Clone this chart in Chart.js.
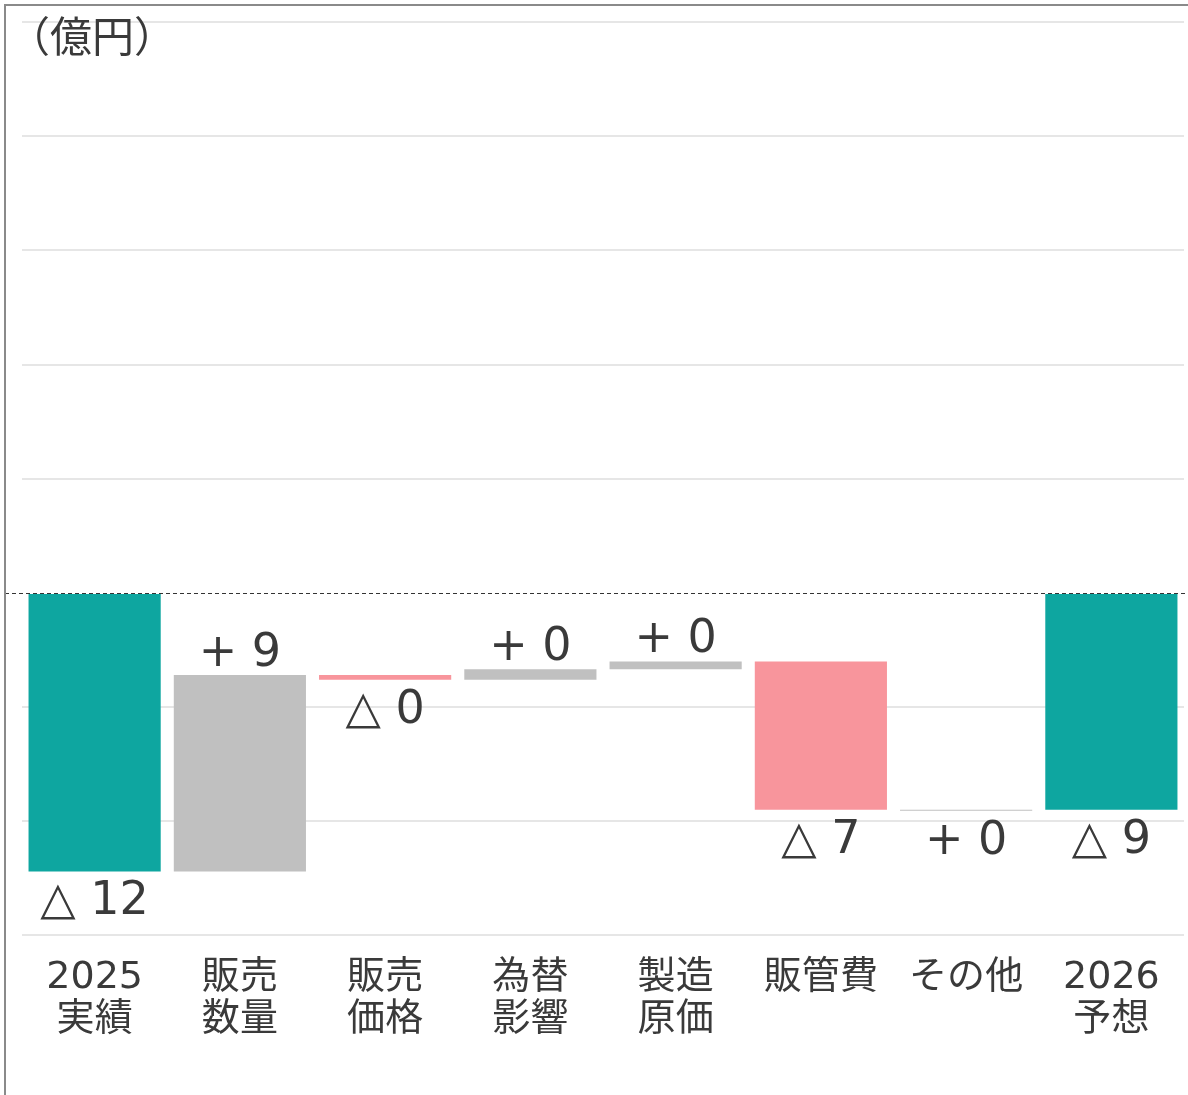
<!DOCTYPE html>
<html>
<head>
<meta charset="utf-8">
<script src="https://cdn.jsdelivr.net/npm/chart.js@4.4.1/dist/chart.umd.min.js"></script>
<style>
  html, body { margin: 0; padding: 0; background: #fff; }
  #wrap { position: relative; width: 1188px; height: 1095px; }
</style>
</head>
<body>
<div id="wrap"><canvas id="chartWaterfall"></canvas></div>
<script>
const categories = [['2025', '実績'], ['販売', '数量'], ['販売', '価格'], ['為替', '影響'], ['製造', '原価'], '販管費', 'その他', ['2026', '予想']];
const startValue = -12.2;
const deltas = [8.6, -0.2, 0.45, 0.35, -6.5, 0];
const endValue = -9.5;
const valueLabels = ['△ 12', '+ 9', '△ 0', '+ 0', '+ 0', '△ 7', '+ 0', '△ 9'];
const yMin = -15;
const yMax = 25;
const yStep = 5;
const unitLabel = '（億円）';

const FONT = '"DejaVu Sans", "Noto Sans CJK JP", sans-serif';
const CJK = '"Noto Sans CJK JP", sans-serif';
const TEAL = '#0ea6a0';
const GRAY = '#c0c0c0';
const PINK = '#f8959c';
const TEXT = '#3a3a3a';

// floating bars built from start / deltas / end
const bars = [];
const colors = [];
const signs = [];
bars.push([0, startValue]);
colors.push(TEAL);
signs.push(startValue > 0 ? 1 : -1);
let running = startValue;
deltas.forEach(d => {
    bars.push([running, running + d]);
    running += d;
    colors.push(d < 0 ? PINK : GRAY);
    signs.push(d > 0 ? 1 : -1);
});
bars.push([0, endValue]);
colors.push(TEAL);
signs.push(endValue > 0 ? 1 : -1);

const extras = {
    id: 'extras',
    afterDatasetsDraw(chart) {
        const c = chart.ctx;
        const y = chart.scales.y;
        const meta = chart.getDatasetMeta(0);
        // dashed zero line
        const y0 = Math.round(y.getPixelForValue(0)) + 0.5;
        c.save();
        c.strokeStyle = '#333';
        c.lineWidth = 1;
        c.setLineDash([4, 3]);
        c.beginPath();
        c.moveTo(5, y0);
        c.lineTo(chart.width, y0);
        c.stroke();
        c.restore();

        // value labels
        c.save();
        c.fillStyle = TEXT;
        c.font = '46px ' + FONT;
        c.textAlign = 'center';
        meta.data.forEach((bar, i) => {
            const top = Math.min(bar.y, bar.base);
            const bottom = Math.max(bar.y, bar.base);
            if (signs[i] > 0) {
                c.textBaseline = 'bottom';
                c.fillText(valueLabels[i], bar.x, top + 2);
            } else {
                c.textBaseline = 'top';
                c.fillText(valueLabels[i], bar.x, bottom + 8);
            }
        });
        c.restore();

        // unit label
        c.save();
        c.fillStyle = TEXT;
        c.font = '42px ' + CJK;
        c.textAlign = 'left';
        c.textBaseline = 'top';
        c.fillText(unitLabel, 8, 15);
        c.restore();

        // frame (top + left)
        c.save();
        c.strokeStyle = '#8a8a8a';
        c.lineWidth = 2;
        c.beginPath();
        c.moveTo(5, chart.height);
        c.lineTo(5, 5);
        c.lineTo(chart.width, 5);
        c.stroke();
        c.restore();
    }
};

const ctxWaterfall = document.getElementById('chartWaterfall').getContext('2d');
const chart = new Chart(ctxWaterfall, {
    type: 'bar',
    data: {
        labels: categories,
        datasets: [{
            data: bars,
            backgroundColor: colors,
            borderWidth: 0,
            barPercentage: 1,
            categoryPercentage: 0.91,
            minBarLength: 1
        }]
    },
    options: {
        responsive: true,
        maintainAspectRatio: false,
        animation: false,
        layout: { padding: { left: 22, right: 4, top: 22, bottom: 40 } },
        plugins: {
            legend: { display: false },
            tooltip: { enabled: false }
        },
        scales: {
            x: {
                grid: { display: false },
                border: { display: false },
                ticks: {
                    color: TEXT,
                    font: { family: FONT, size: 38, lineHeight: 1.1 },
                    padding: 14,
                    maxRotation: 0,
                    autoSkip: false
                }
            },
            y: {
                min: yMin,
                max: yMax,
                border: { display: false },
                grid: {
                    drawTicks: false,
                    lineWidth: 2,
                    color: ctx => ctx.tick && ctx.tick.value === 0 ? 'rgba(0,0,0,0)' : '#e6e6e6'
                },
                ticks: { display: false, stepSize: yStep }
            }
        }
    },
    plugins: [extras]
});
</script>
</body>
</html>
